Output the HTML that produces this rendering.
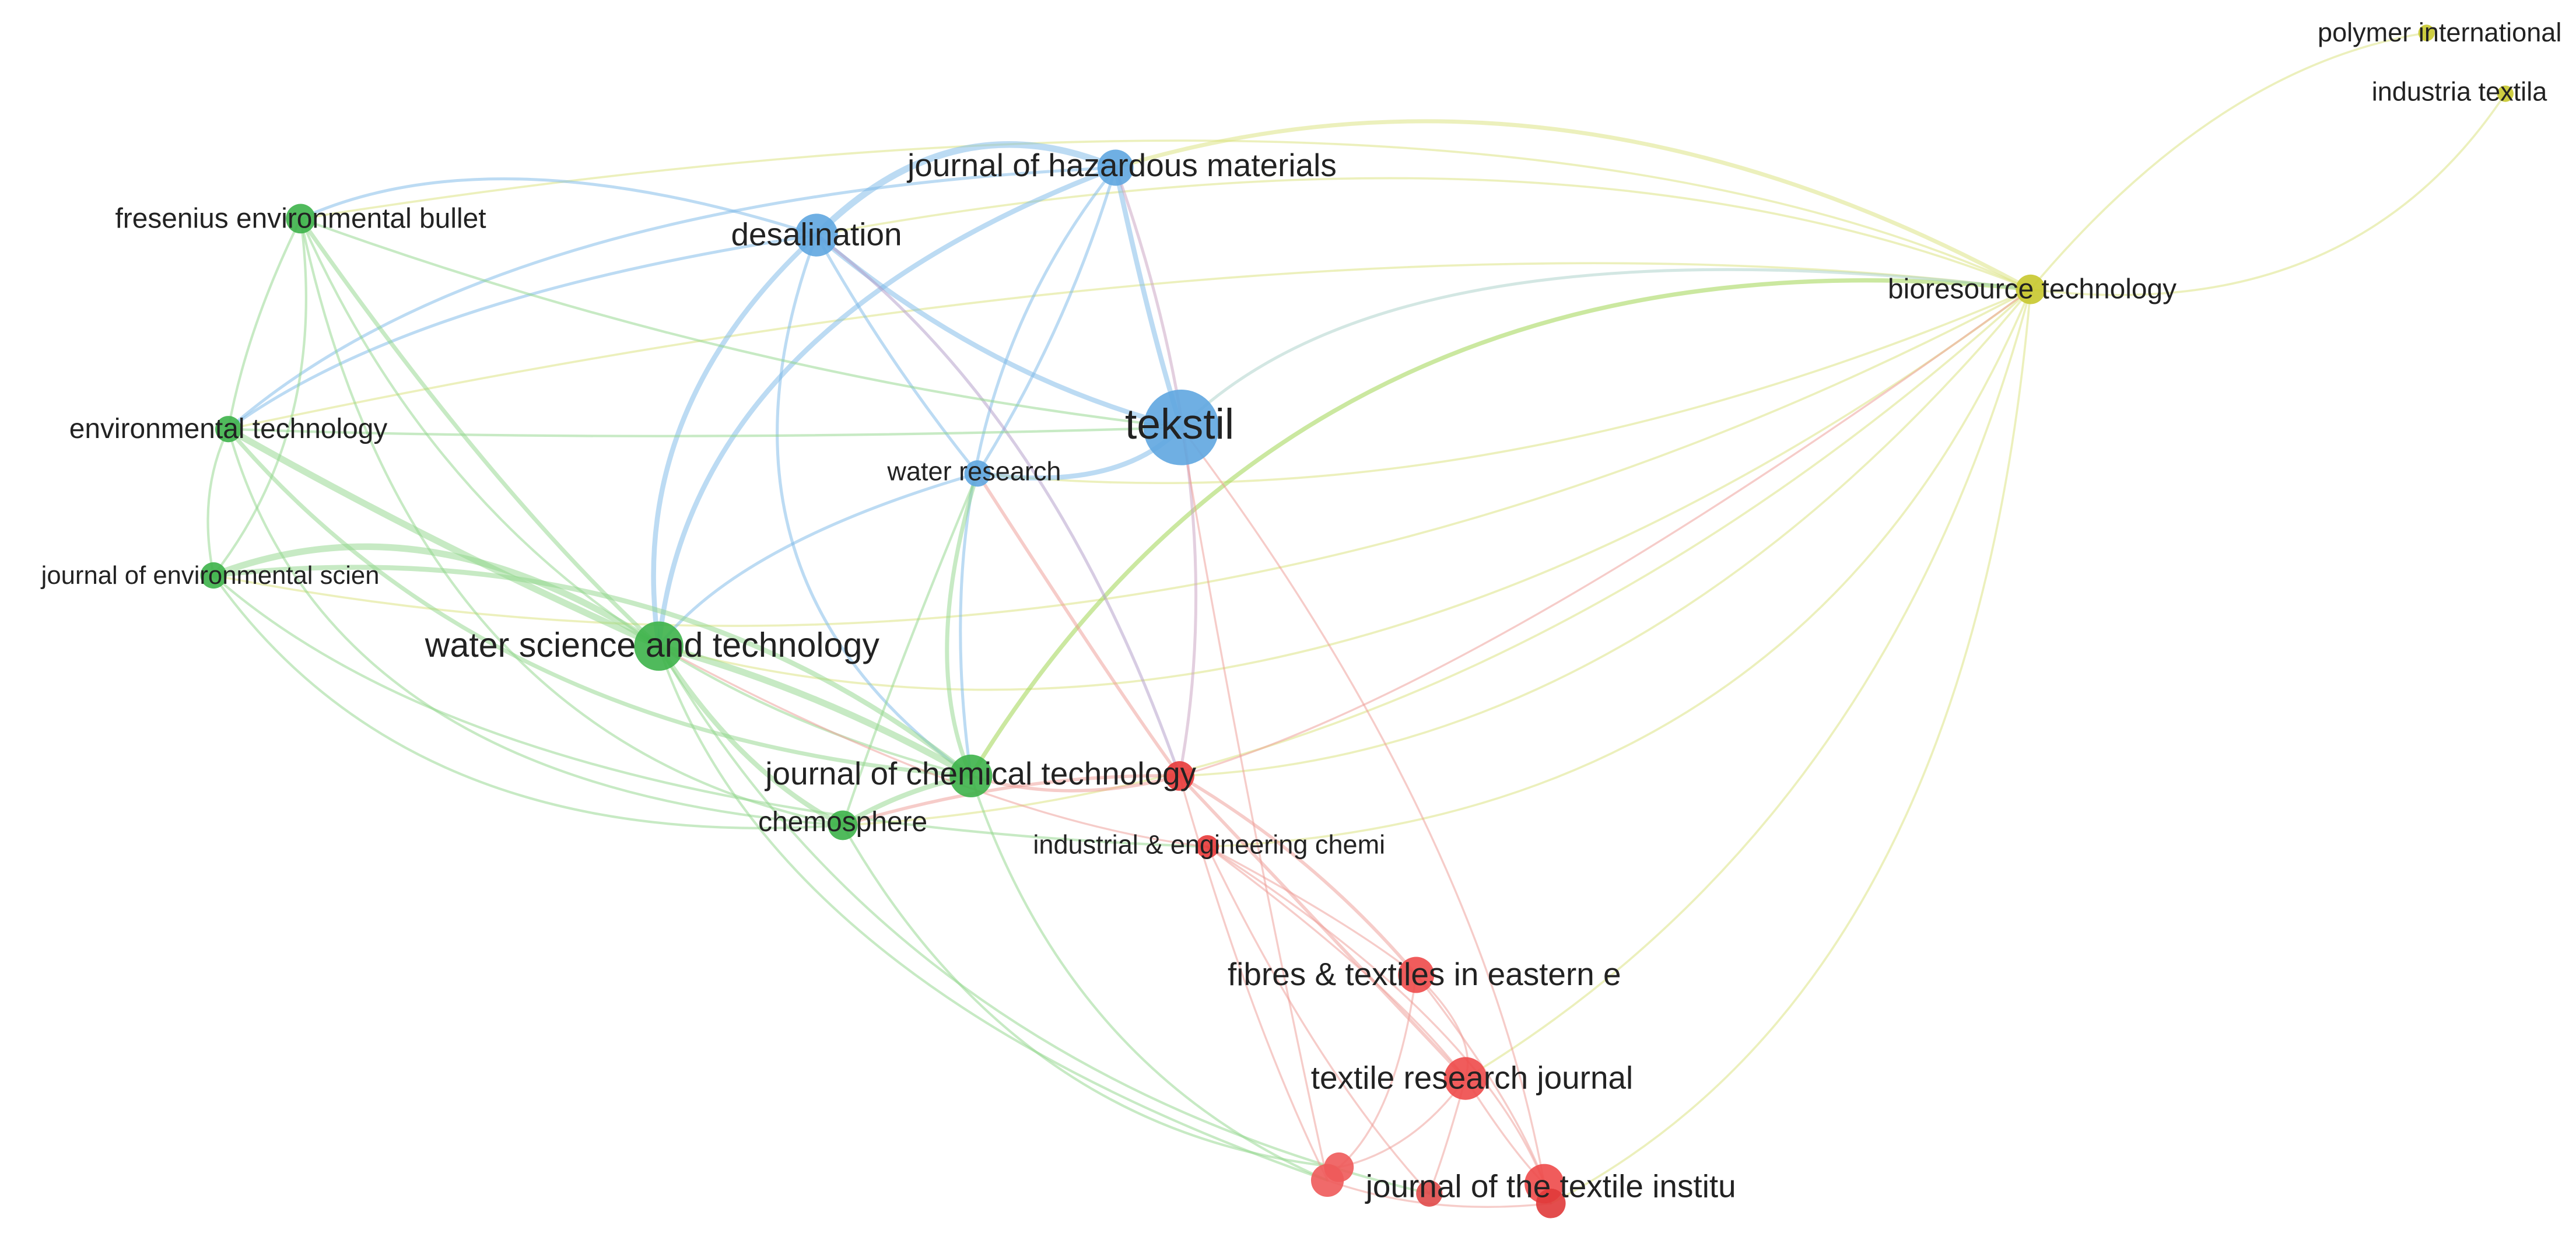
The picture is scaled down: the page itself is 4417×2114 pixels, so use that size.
<!DOCTYPE html>
<html><head><meta charset="utf-8"><style>
html,body{margin:0;padding:0;background:#fff;}
svg{display:block;}
text{font-family:"Liberation Sans","DejaVu Sans",sans-serif;fill:#222;text-anchor:middle;dominant-baseline:middle;}
</style></head><body>
<svg width="4417" height="2114" viewBox="0 0 1568 750" preserveAspectRatio="none" xmlns="http://www.w3.org/2000/svg">
<g fill="none" stroke-linecap="round">
<g stroke="#d9e27a" stroke-opacity="0.5" stroke-width="1.3">
<path d="M1236 176 Q1350 40 1477 20"/>
<path d="M1236 176 Q1430 200 1525 57"/>
<path d="M1236 176 Q900 20 183 133"/>
<path d="M1236 176 Q950 60 497 143"/>
<path d="M1236 176 Q950 20 679 102" stroke-width="2.5"/>
<path d="M1236 176 Q900 320 595 288"/>
<path d="M1236 176 Q800 120 139 261"/>
<path d="M1236 176 Q800 500 401 393"/>
<path d="M1236 176 Q900 480 513 502"/>
<path d="M1236 176 Q1000 460 718 472"/>
<path d="M1236 176 Q1100 500 735 515"/>
<path d="M1236 176 Q1200 600 944 732"/>
<path d="M1236 176 Q1150 500 892 656"/>
<path d="M1236 176 Q700 460 130 350"/>
</g>
<path d="M1236 176 Q800 130 591 472" stroke="#a8d860" stroke-opacity="0.6" stroke-width="2.6"/>
<g stroke="#7ab8e8" stroke-opacity="0.5" stroke-width="1.8">
<path d="M497 143 Q580 60 679 102" stroke-width="4"/>
<path d="M497 143 Q600 230 719 260" stroke-width="3"/>
<path d="M497 143 Q540 220 595 288"/>
<path d="M679 102 Q650 200 595 288"/>
<path d="M679 102 Q700 200 719 260" stroke-width="3"/>
<path d="M595 288 Q680 300 719 260" stroke-width="3"/>
<path d="M497 143 Q380 250 401 393" stroke-width="3"/>
<path d="M679 102 Q420 200 401 393" stroke-width="3"/>
<path d="M595 288 Q450 330 401 393"/>
<path d="M497 143 Q300 80 183 133"/>
<path d="M497 143 Q250 180 139 261"/>
<path d="M679 102 Q300 120 139 261"/>
<path d="M497 143 Q420 350 591 472"/>
<path d="M679 102 Q560 250 591 472"/>
<path d="M497 143 Q640 250 718 472" stroke="#b09ac8"/>
<path d="M679 102 Q750 300 718 472" stroke="#c8a0c0"/>
<path d="M719 260 Q850 130 1236 176" stroke="#a8cfc8"/>
</g>
<g stroke="#8fd58a" stroke-opacity="0.5" stroke-width="1.5">
<path d="M183 133 Q150 200 139 261"/>
<path d="M183 133 Q200 260 130 350"/>
<path d="M139 261 Q120 300 130 350"/>
<path d="M183 133 Q300 300 401 393" stroke-width="2.5"/>
<path d="M139 261 Q260 330 401 393" stroke-width="4"/>
<path d="M130 350 Q260 300 401 393" stroke-width="4"/>
<path d="M130 350 Q400 320 591 472" stroke-width="3"/>
<path d="M139 261 Q300 450 591 472" stroke-width="2.5"/>
<path d="M183 133 Q300 400 591 472"/>
<path d="M130 350 Q250 520 513 502"/>
<path d="M139 261 Q200 480 513 502"/>
<path d="M183 133 Q250 450 513 502"/>
<path d="M401 393 Q500 420 591 472" stroke-width="4"/>
<path d="M401 393 Q450 470 513 502" stroke-width="3"/>
<path d="M513 502 Q550 480 591 472" stroke-width="3"/>
<path d="M595 288 Q560 400 591 472" stroke-width="2.5"/>
<path d="M595 288 Q540 420 513 502"/>
<path d="M401 393 Q470 600 808 718"/>
<path d="M401 393 Q550 650 870 726"/>
<path d="M591 472 Q650 650 808 718"/>
<path d="M513 502 Q620 690 815 710"/>
<path d="M130 350 Q300 500 735 515"/>
<path d="M139 261 Q400 270 719 260"/>
<path d="M183 133 Q450 230 719 260"/>
</g>
<g stroke="#ee9a94" stroke-opacity="0.5" stroke-width="1.2">
<path d="M718 472 Q800 520 862 593" stroke-width="2"/>
<path d="M718 472 Q820 580 892 656" stroke-width="2"/>
<path d="M718 472 Q760 620 808 718"/>
<path d="M735 515 Q820 560 862 593"/>
<path d="M735 515 Q850 600 892 656"/>
<path d="M735 515 Q800 650 870 726"/>
<path d="M735 515 Q900 620 940 720"/>
<path d="M862 593 Q900 630 892 656"/>
<path d="M862 593 Q850 680 815 710"/>
<path d="M892 656 Q860 700 815 710"/>
<path d="M892 656 Q920 700 940 720"/>
<path d="M892 656 Q880 700 870 726"/>
<path d="M808 718 Q870 740 944 732"/>
<path d="M862 593 Q930 680 944 732"/>
<path d="M595 288 Q680 420 718 472" stroke-width="2"/>
<path d="M513 502 Q620 470 718 472" stroke-width="2"/>
<path d="M401 393 Q600 500 735 515"/>
<path d="M591 472 Q650 490 718 472" stroke-width="2"/>
<path d="M718 472 Q900 420 1236 176"/>
<path d="M719 260 Q760 500 808 718"/>
<path d="M719 260 Q900 500 940 720"/>
</g>
</g>
<g fill-opacity="0.9">
<circle cx="1477" cy="20" r="5" fill="#c8c82e"/>
<circle cx="1525" cy="57" r="5" fill="#c8c82e"/>
<circle cx="1236" cy="176" r="9" fill="#c8c82e"/>
<circle cx="679" cy="102" r="11" fill="#5fa6e0"/>
<circle cx="497" cy="143" r="13" fill="#5fa6e0"/>
<circle cx="719" cy="260" r="23" fill="#5fa6e0"/>
<circle cx="595" cy="288" r="8" fill="#5fa6e0"/>
<circle cx="183" cy="133" r="9" fill="#3db24a"/>
<circle cx="139" cy="261" r="8" fill="#3db24a"/>
<circle cx="130" cy="350" r="8" fill="#3db24a"/>
<circle cx="401" cy="393" r="15" fill="#3db24a"/>
<circle cx="591" cy="472" r="13" fill="#3db24a"/>
<circle cx="513" cy="502" r="9" fill="#3db24a"/>
<circle cx="718" cy="472" r="9" fill="#e83a3a"/>
<circle cx="735" cy="515" r="7" fill="#e83a3a"/>
<circle cx="862" cy="593" r="11" fill="#ee4a4a"/>
<circle cx="892" cy="656" r="13" fill="#ee4a4a"/>
<circle cx="815" cy="710" r="9" fill="#ee5a5a"/>
<circle cx="808" cy="718" r="10" fill="#ee5a5a"/>
<circle cx="870" cy="726" r="8" fill="#e04a4a"/>
<circle cx="940" cy="720" r="12" fill="#ee4a4a"/>
<circle cx="944" cy="732" r="9" fill="#e03a3a"/>
</g>
<text x="1485" y="21" font-size="16">polymer international</text>
<text x="1497" y="57" font-size="16">industria textila</text>
<text x="1237" y="177" font-size="17">bioresource technology</text>
<text x="683" y="102" font-size="19.5">journal of hazardous materials</text>
<text x="497" y="144" font-size="19.5">desalination</text>
<text x="183" y="134" font-size="17">fresenius environmental bullet</text>
<text x="718" y="260" font-size="26">tekstil</text>
<text x="593" y="288" font-size="16">water research</text>
<text x="139" y="262" font-size="17">environmental technology</text>
<text x="128" y="351" font-size="15.5">journal of environmental scien</text>
<text x="397" y="394" font-size="21">water science and technology</text>
<text x="597" y="472" font-size="19.5">journal of chemical technology</text>
<text x="513" y="501" font-size="17">chemosphere</text>
<text x="736" y="515" font-size="16">industrial &amp; engineering chemi</text>
<text x="867" y="594" font-size="19.5">fibres &amp; textiles in eastern e</text>
<text x="896" y="657" font-size="19.5">textile research journal</text>
<text x="944" y="723" font-size="19.5">journal of the textile institu</text>
</svg>
</body></html>
